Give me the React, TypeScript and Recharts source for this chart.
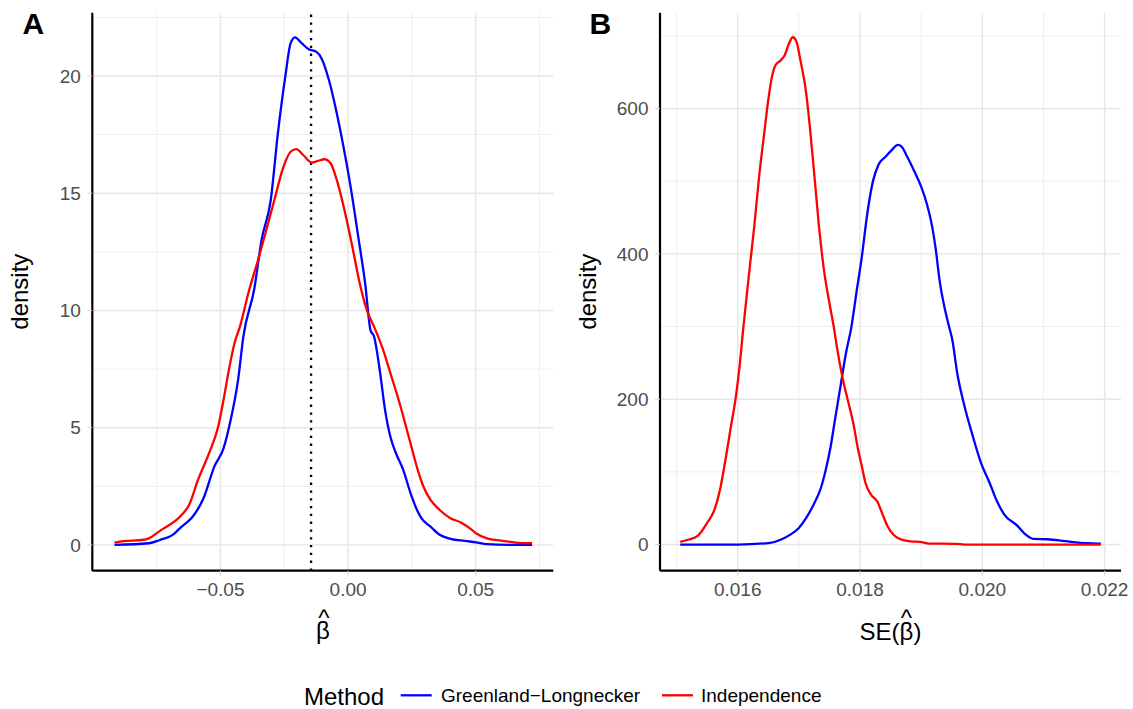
import React from 'react';
import { LineChart, Line, XAxis, YAxis, CartesianGrid, ReferenceLine, Label } from 'recharts';

const FONT = '"Liberation Sans", Arial, Helvetica, sans-serif';

// ---------- Panel A: beta-hat densities ----------
const aGLx = [-0.0915, -0.078, -0.0737, -0.0687, -0.0652, -0.0609, -0.0566, -0.0524, -0.0488, -0.046, -0.0431, -0.041, -0.0367, -0.0339, -0.0303, -0.0275, -0.0246, -0.0225, -0.0208, -0.0182, -0.0154, -0.0125, -0.0104, -0.0075, -0.0047, -0.0018, 0.001, 0.0038, 0.0067, 0.0088, 0.0102, 0.0124, 0.0145, 0.0166, 0.0188, 0.0216, 0.0245, 0.0273, 0.0287, 0.0323, 0.0359, 0.0401, 0.0458, 0.0501, 0.0544, 0.0629, 0.0721];
const aGLy = [0, 0.07, 0.21, 0.43, 0.78, 1.2, 2.0, 3.34, 4.12, 5.33, 7.03, 8.9, 10.95, 13.0, 14.7, 17.55, 19.97, 21.4, 21.65, 21.4, 21.14, 21.04, 20.75, 19.83, 18.55, 16.98, 15.27, 13.28, 11.14, 9.15, 8.88, 7.46, 5.75, 4.6, 3.9, 3.2, 2.2, 1.42, 1.14, 0.78, 0.43, 0.26, 0.17, 0.11, 0.03, 0, 0];
const aINx = [-0.0915, -0.088, -0.0808, -0.078, -0.0737, -0.068, -0.0652, -0.0623, -0.0588, -0.0545, -0.0509, -0.0488, -0.0467, -0.0445, -0.0424, -0.0388, -0.0353, -0.0324, -0.0289, -0.0253, -0.0225, -0.0203, -0.0175, -0.0142, -0.0118, -0.0092, -0.0068, -0.004, -0.0011, 0.0017, 0.0046, 0.0074, 0.0102, 0.0138, 0.0166, 0.0202, 0.0238, 0.0273, 0.0295, 0.0323, 0.0359, 0.0401, 0.0444, 0.0472, 0.0501, 0.0544, 0.06, 0.0657, 0.0721];
const aINy = [0.1, 0.16, 0.21, 0.28, 0.6, 1.0, 1.28, 1.7, 2.77, 3.9, 5.04, 6.18, 7.46, 8.6, 9.3, 10.85, 12.14, 13.28, 14.7, 16.13, 16.77, 16.88, 16.62, 16.31, 16.38, 16.45, 16.27, 15.41, 14.13, 12.71, 11.14, 10.0, 9.3, 8.3, 7.32, 6.04, 4.6, 3.2, 2.49, 1.92, 1.49, 1.14, 0.95, 0.75, 0.5, 0.28, 0.18, 0.1, 0.07];
const aRefX = -0.0145;
const aXTicks = [-0.05, 0, 0.05];
const aXMinor = [-0.075, -0.025, 0.025, 0.075];
const aYTicks = [0, 5, 10, 15, 20];
const aYMinor = [2.5, 7.5, 12.5, 17.5, 22.5];

// ---------- Panel B: SE(beta-hat) densities ----------
const bGLx = [0.01506, 0.016, 0.01653, 0.01671, 0.01686, 0.017, 0.01712, 0.01724, 0.01736, 0.01744, 0.01752, 0.01759, 0.01768, 0.01777, 0.01786, 0.01794, 0.01803, 0.01812, 0.01821, 0.0183, 0.01842, 0.01853, 0.01862, 0.01868, 0.01877, 0.01889, 0.019, 0.01909, 0.01918, 0.01924, 0.0193, 0.01939, 0.01945, 0.01951, 0.01959, 0.01971, 0.01983, 0.01998, 0.02012, 0.02024, 0.02036, 0.02057, 0.02071, 0.02083, 0.02107, 0.02136, 0.02171, 0.02194];
const bGLy = [0, 0, 2.3, 6.9, 13.7, 22.9, 36.6, 54.9, 77.8, 103, 135, 171.6, 217.4, 263.2, 300, 345.9, 396.3, 456, 499.5, 522.5, 534, 544, 550, 547.7, 534, 513.3, 492.7, 469.7, 437.6, 405.5, 364.2, 323, 302, 281.5, 235.7, 190, 153.3, 112.1, 84.7, 59.5, 41.2, 26.1, 13.7, 7.8, 7.3, 4.6, 1.8, 1.4];
const bINx = [0.01506, 0.0152, 0.01535, 0.0155, 0.01562, 0.01571, 0.0158, 0.01588, 0.01597, 0.01603, 0.01609, 0.01618, 0.01627, 0.01635, 0.01644, 0.0165, 0.01656, 0.01662, 0.01671, 0.01677, 0.01684, 0.0169, 0.01696, 0.01703, 0.01712, 0.01719, 0.01727, 0.01734, 0.01741, 0.0175, 0.01758, 0.01762, 0.01771, 0.0178, 0.01789, 0.01797, 0.01803, 0.01809, 0.01818, 0.01828, 0.01836, 0.01845, 0.01856, 0.01871, 0.01886, 0.01898, 0.01912, 0.01956, 0.01971, 0.02194];
const bINy = [3.7, 6.9, 12.4, 29.8, 48, 75.5, 116.7, 158, 203.7, 244.9, 297, 368.8, 437.6, 506.4, 570.6, 611.9, 644, 660, 667, 673.9, 689.9, 698.2, 692.2, 664.7, 621.1, 566, 492.7, 428.5, 378, 332.1, 295, 273, 231, 199, 167, 130, 107.6, 84.7, 68.7, 59.5, 43.5, 25.2, 12.4, 6, 4.1, 3.7, 1.4, 0.9, 0, 0];
const bXTicks = [0.016, 0.018, 0.02, 0.022];
const bXMinor = [0.015, 0.017, 0.019, 0.021];
const bYTicks = [0, 200, 400, 600];
const bYMinor = [100, 300, 500, 700];

const seriesNames = ['Greenland\u2212Longnecker', 'Independence'];
const seriesColors = ['#0000ff', '#ff0000'];

const toPts = (xs: number[], ys: number[]) => xs.map((x, i) => ({ x, y: ys[i] }));

const tickStyle = { fill: '#4d4d4d', fontSize: 19, fontFamily: FONT };
const fmtA = (v: number) => v.toFixed(2).replace('-', '\u2212');
const fmtB = (v: number) => v.toFixed(3);

const YTitle = (props: any) => {
  const vb = props.viewBox || {};
  const x = vb.x + vb.width - 64;
  const y = vb.y + vb.height / 2;
  return (
    <text x={x} y={y} transform={`rotate(-90 ${x} ${y})`} textAnchor="middle" fontSize={24} fill="#000" fontFamily={FONT}>
      density
    </text>
  );
};

const XTitleA = (props: any) => {
  const vb = props.viewBox || {};
  const cx = vb.x + vb.width / 2;
  const y0 = vb.y;
  return (
    <text textAnchor="middle" fontSize={24} fill="#000" fontFamily={FONT}>
      <tspan x={cx} y={y0 + 68.5}>β</tspan>
      <tspan x={cx + 1} y={y0 + 55.5}>^</tspan>
    </text>
  );
};

const XTitleB = (props: any) => {
  const vb = props.viewBox || {};
  const cx = vb.x + vb.width / 2;
  const y0 = vb.y;
  return (
    <text textAnchor="middle" fontSize={24} fill="#000" fontFamily={FONT}>
      <tspan x={cx} y={y0 + 68.8}>SE(β)</tspan>
      <tspan x={cx + 16} y={y0 + 55.5}>^</tspan>
    </text>
  );
};

type PanelProps = {
  left: number;
  width: number;
  yAxisWidth: number;
  marginRight: number;
  xDomain: [number, number];
  yDomain: [number, number];
  xTicks: number[];
  xMinor: number[];
  yTicks: number[];
  yMinor: number[];
  fmt: (v: number) => string;
  series: { x: number; y: number }[][];
  xTitle: any;
  refX?: number;
};

const Panel = (p: PanelProps) => (
  <div style={{ position: 'absolute', left: p.left, top: 0 }}>
    <LineChart width={p.width} height={709} margin={{ top: 12.7, right: p.marginRight, bottom: 0, left: 0 }}>
      <CartesianGrid stroke="#ebebeb" strokeWidth={0.8} horizontalValues={p.yMinor} verticalValues={p.xMinor} />
      <CartesianGrid stroke="#e6e6e6" strokeWidth={1.4} horizontalValues={p.yTicks} verticalValues={p.xTicks} />
      <XAxis
        type="number"
        dataKey="x"
        domain={p.xDomain}
        ticks={p.xTicks}
        interval={0}
        allowDataOverflow
        tickFormatter={p.fmt}
        height={138.3}
        tick={tickStyle}
        tickSize={5}
        tickMargin={7}
        tickLine={{ stroke: '#d6d6d6' }}
        axisLine={{ stroke: '#000', strokeWidth: 2.2 }}
        label={<Label content={p.xTitle} />}
      />
      <YAxis
        type="number"
        dataKey="y"
        domain={p.yDomain}
        ticks={p.yTicks}
        interval={0}
        allowDataOverflow
        width={p.yAxisWidth}
        tick={tickStyle}
        tickSize={5}
        tickMargin={6.5}
        tickLine={{ stroke: '#d6d6d6' }}
        axisLine={{ stroke: '#000', strokeWidth: 2.2 }}
        label={<Label content={YTitle} />}
      />
      {p.refX !== undefined && (
        <ReferenceLine x={p.refX} stroke="#000" strokeWidth={2.3} strokeDasharray="2.3 5.5" />
      )}
      {p.series.map((d, i) => (
        <Line
          key={i}
          data={d}
          dataKey="y"
          type="monotone"
          stroke={seriesColors[i]}
          strokeWidth={2.3}
          dot={false}
          activeDot={false}
          isAnimationActive={false}
        />
      ))}
    </LineChart>
  </div>
);

export default function App() {
  const aSeries = [toPts(aGLx, aGLy), toPts(aINx, aINy)];
  const bSeries = [toPts(bGLx, bGLy), toPts(bINx, bINy)];
  return (
    <div style={{ position: 'absolute', left: 0, top: 0, width: 1133, height: 709, background: '#fff', fontFamily: FONT }}>
      <Panel
        left={0}
        width={566}
        yAxisWidth={92.3}
        marginRight={12.7}
        xDomain={[-0.1002, 0.0804]}
        yDomain={[-1.1, 22.7]}
        xTicks={aXTicks}
        xMinor={aXMinor}
        yTicks={aYTicks}
        yMinor={aYMinor}
        fmt={fmtA}
        series={aSeries}
        xTitle={XTitleA}
        refX={aRefX}
      />
      <Panel
        left={566}
        width={567}
        yAxisWidth={94}
        marginRight={12}
        xDomain={[0.014729, 0.022268]}
        yDomain={[-36, 732]}
        xTicks={bXTicks}
        xMinor={bXMinor}
        yTicks={bYTicks}
        yMinor={bYMinor}
        fmt={fmtB}
        series={bSeries}
        xTitle={XTitleB}
      />
      <svg width={1133} height={709} style={{ position: 'absolute', left: 0, top: 0, pointerEvents: 'none' }}>
        <text x={22.5} y={34.3} fontSize={30} fontWeight="bold" fill="#000" fontFamily={FONT}>A</text>
        <text x={589.5} y={34.3} fontSize={30} fontWeight="bold" fill="#000" fontFamily={FONT}>B</text>
        <text x={304} y={705} fontSize={24} fill="#000" fontFamily={FONT}>Method</text>
        <line x1={400.7} x2={431.7} y1={695.3} y2={695.3} stroke={seriesColors[0]} strokeWidth={2.3} />
        <text x={441} y={702.3} fontSize={19} fill="#000" fontFamily={FONT}>{seriesNames[0]}</text>
        <line x1={662} x2={693} y1={695.3} y2={695.3} stroke={seriesColors[1]} strokeWidth={2.3} />
        <text x={701} y={702.3} fontSize={19} fill="#000" fontFamily={FONT}>{seriesNames[1]}</text>
      </svg>
    </div>
  );
}
